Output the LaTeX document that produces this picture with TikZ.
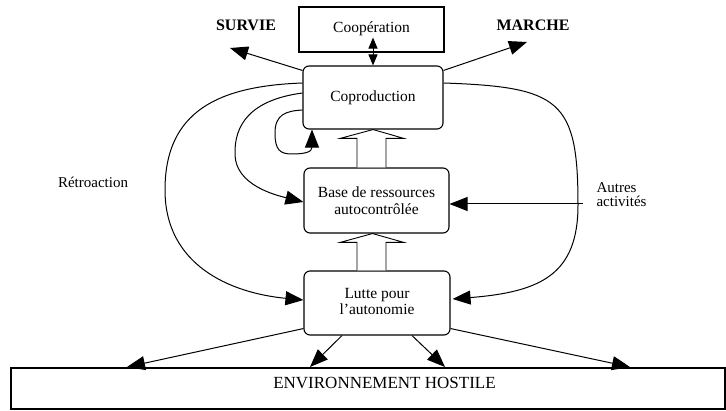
\documentclass[tikz,border=0pt]{standalone}
\usepackage{fontspec}
\setmainfont{Liberation Serif}
\usetikzlibrary{arrows.meta}

\tikzset{
  x=1pt, y=-1pt,
  boxtext/.style={font=\fontsize{15.5}{17.5}\selectfont, align=center},
  plainbox/.style={draw, line width=1.1pt, inner sep=0pt, boxtext},
  roundbox/.style={plainbox, rounded corners=6pt},
  flow/.style={line width=1pt, -{Triangle[length=18pt,width=14pt]}},
  twoway/.style={line width=1pt, {Triangle[length=11pt,width=9pt]}-{Triangle[length=11pt,width=9pt]}},
  hollowarrow/.style={draw, line width=0.9pt, fill=white},
  heading/.style={font=\fontsize{16}{18}\selectfont\bfseries},
  sidetext/.style={font=\fontsize{15}{16}\selectfont, align=left}
}

\begin{document}
\begin{tikzpicture}
\useasboundingbox (0,0) rectangle (726,411);

% boxes
\node[plainbox, minimum width=145pt, minimum height=45pt] (coop) at (371.5,29.5) {\raisebox{5pt}{Coopération}};
\node[roundbox, minimum width=140pt, minimum height=63pt] (copro) at (373,97.5) {\raisebox{2pt}{Coproduction}};
\node[roundbox, minimum width=145pt, minimum height=65pt] (base) at (376.5,200.5) {Base de ressources\\autocontrôlée};
\node[roundbox, minimum width=146pt, minimum height=64pt] (lutte) at (377,303) {\raisebox{4pt}{\begin{tabular}{@{}c@{}}Lutte pour\\[-2pt]l'autonomie\end{tabular}}};
\node[plainbox, minimum width=714pt, minimum height=41pt] (env) at (368,388.5) {};
\node[font=\fontsize{17}{19}\selectfont] (envtext) at (384.5,383) {ENVIRONNEMENT HOSTILE};

% free labels
\node[heading] (survie) at (246,25) {SURVIE};
\node[heading] (marche) at (533,25) {MARCHE};
\node[font=\fontsize{15}{17}\selectfont] (retro) at (93,182) {Rétroaction};
\node[sidetext, anchor=west] (autres) at (593,195) {Autres\\[-2pt]activités};

% loose arrow ends
\coordinate (survietip) at (230,48);
\coordinate (marchetip) at (527,42);
\coordinate (autresstart) at (583,204);
\coordinate (envtipA) at (127,367);
\coordinate (envtipB) at (310,367);
\coordinate (envtipC) at (445,367);
\coordinate (envtipD) at (630,367);

% cooperation link
\draw[twoway] (copro.north) -- ([xshift=1.5pt,yshift=15pt]coop.south);

% outward arrows from coproduction
\draw[flow] ([yshift=-5pt]copro.north west) -- (survietip);
\draw[flow] ([yshift=-5pt]copro.north east) -- (marchetip);

% hollow block arrows
\draw[hollowarrow] ([xshift=-20pt]lutte.north) -- ([xshift=-20pt,yshift=28pt]lutte.north)
  -- ([xshift=-37pt,yshift=28pt]lutte.north) -- ([xshift=-4pt]base.south)
  -- ([xshift=27pt,yshift=28pt]lutte.north) -- ([xshift=9pt,yshift=28pt]lutte.north)
  -- ([xshift=9pt]lutte.north);
\draw[hollowarrow] ([xshift=-19.5pt]base.north) -- ([xshift=-19.5pt,yshift=29pt]base.north)
  -- ([xshift=-36.5pt,yshift=29pt]base.north) -- ([xshift=0pt]copro.south)
  -- ([xshift=27.5pt,yshift=29pt]base.north) -- ([xshift=9.5pt,yshift=29pt]base.north)
  -- ([xshift=9.5pt]base.north);

% feedback loops on the left
\draw[flow] ([yshift=14.5pt]copro.west) .. controls (220,86) and (165,110) .. (165,190)
  .. controls (165,265) and (230,293) .. ([yshift=3pt]lutte.west);
\draw[flow] ([yshift=4.5pt]copro.west) .. controls (250,100) and (234,125) .. (235,155)
  .. controls (236,185) and (275,195) .. ([yshift=-1.5pt]base.west);
\draw[flow] ([yshift=-12.5pt]copro.west) .. controls (285,111) and (275,115) .. (275,133)
  .. controls (275,150) and (280,154) .. (292,154)
  .. controls (305,154) and (312,152) .. ([xshift=-61pt]copro.south);

% loop on the right and other activities
\draw[flow] ([yshift=14.5pt]copro.east) .. controls (560,87) and (578,100) .. (578,205)
  .. controls (578,275) and (540,292) .. ([yshift=4pt,xshift=2pt]lutte.east);
\draw[flow] (autresstart) -- ([yshift=-3.5pt]base.east);

% arrows into the hostile environment
\draw[flow] ([yshift=7pt]lutte.south west) -- (envtipA);
\draw[flow] ([xshift=-35pt]lutte.south) -- (envtipB);
\draw[flow] ([xshift=35pt]lutte.south) -- (envtipC);
\draw[flow] ([yshift=7pt]lutte.south east) -- (envtipD);
\end{tikzpicture}
\end{document}
